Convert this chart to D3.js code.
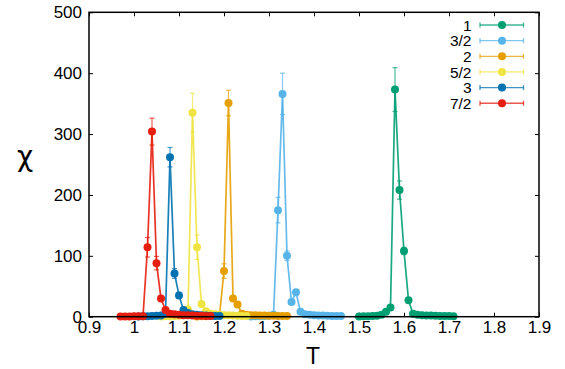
<!DOCTYPE html>
<html>
<head>
<meta charset="utf-8">
<script src="https://cdn.jsdelivr.net/npm/d3@7"></script>
<style>
  html, body { margin: 0; padding: 0; background: #fff; }
  svg { display: block; font-family: "Liberation Sans", Arial, Helvetica, sans-serif; }
</style>
</head>
<body>
<svg id="chart" width="565" height="369"></svg>
<script>
// Susceptibility chi(T) for spins S = 1 ... 7/2
const spinLabels = ["1", "3/2", "2", "5/2", "3", "7/2"];
const spinColors = ["#009e73", "#56b4e9", "#e69f00", "#f0e442", "#0072b2", "#e51e10"];

const tS1 = [1.50,1.51,1.52,1.53,1.54,1.55,1.56,1.57,1.58,1.59,1.60,1.61,1.62,1.63,1.64,1.65,1.66,1.67,1.68,1.69,1.70,1.71];
const chiS1 = [0.5,0.6,0.8,1.0,1.5,3,8,15,373,208,108,27,5,3,2.5,2,1.8,1.5,1.3,1.2,1.0,0.9];
const errS1 = [0,0,0,0,0,0.5,1,3,36,15,6,3,1,0,0,0,0,0,0,0,0,0];

const tS32 = [1.26,1.27,1.28,1.29,1.30,1.31,1.32,1.33,1.34,1.35,1.36,1.37,1.38,1.39,1.40,1.41,1.42,1.43,1.44,1.45,1.46];
const chiS32 = [0.5,0.6,0.8,1.0,1.5,3,175,366,100,24,40,8,4,3,2.5,2,1.8,1.5,1.3,1.1,1.0];
const errS32 = [0,0,0,0,0,0.5,21,34,8,3,4,1,0,0,0,0,0,0,0,0,0];

const tS2 = [1.14,1.15,1.16,1.17,1.18,1.19,1.20,1.21,1.22,1.23,1.24,1.25,1.26,1.27,1.28,1.29,1.30,1.31,1.32,1.33,1.34];
const chiS2 = [0.5,0.6,0.8,1.0,1.5,2,75,351,30,20,5,3,2.5,2.2,2,1.8,1.6,1.4,1.2,1.1,1.0];
const errS2 = [0,0,0,0,0,0.5,12,21,3,2,1,0,0,0,0,0,0,0,0,0,0];

const tS52 = [1.06,1.07,1.08,1.09,1.10,1.11,1.12,1.13,1.14,1.15,1.16,1.17,1.18,1.19,1.20,1.21,1.22,1.23,1.24,1.25];
const chiS52 = [0.5,0.6,0.8,1.0,1.5,2.5,12,335,114,21,9,5,4,3,2.5,2.2,2,1.6,1.3,1.0];
const errS52 = [0,0,0,0,0,0.5,2,32,20,3,1,1,0,0,0,0,0,0,0,0];

const tS3 = [1.01,1.02,1.03,1.04,1.05,1.06,1.07,1.08,1.09,1.10,1.11,1.12,1.13,1.14,1.15,1.16,1.17,1.18,1.19];
const chiS3 = [0.5,0.6,0.8,1.0,1.5,2,5,262,71,35,11,6,4,3,2.5,2,1.6,1.3,1.0];
const errS3 = [0,0,0,0,0,0.5,1,16,8,5,2,1,0,0,0,0,0,0,0];

const tS72 = [0.97,0.98,0.99,1.00,1.01,1.02,1.03,1.04,1.05,1.06,1.07,1.08,1.09,1.10,1.11,1.12,1.13,1.14,1.15,1.16,1.17];
const chiS72 = [0.3,0.4,0.5,0.6,0.7,0.8,114,304,88,30,11,5,4,3,2.5,2.2,2,1.7,1.4,1.2,1.0];
const errS72 = [0,0,0,0,0,0,16,22,11,4,2,1,0,0,0,0,0,0,0,0,0];

const xTicks = [0.9,1.0,1.1,1.2,1.3,1.4,1.5,1.6,1.7,1.8,1.9];
const yTicks = [0,100,200,300,400,500];

const seriesT = [tS1, tS32, tS2, tS52, tS3, tS72];
const seriesChi = [chiS1, chiS32, chiS2, chiS52, chiS3, chiS72];
const seriesErr = [errS1, errS32, errS2, errS52, errS3, errS72];

const series = spinLabels.map((label, i) => ({
  label,
  color: spinColors[i],
  points: seriesT[i].map((t, j) => ({ t, chi: seriesChi[i][j], err: seriesErr[i][j] }))
}));

const svg = d3.select("#chart");
const plotLeft = 89, plotRight = 539, plotTop = 12.3, plotBottom = 316.7;

const x = d3.scaleLinear().domain([0.9, 1.9]).range([plotLeft, plotRight]);
const y = d3.scaleLinear().domain([0, 500]).range([plotBottom, plotTop]);

const fmtX = d3.format(".1~f");

// axes with inward ticks on all four sides
const axisStyle = g => {
  g.select(".domain").remove();
  g.selectAll(".tick line").attr("stroke", "#000").attr("stroke-width", 1);
  g.selectAll(".tick text").attr("fill", "#000").attr("font-size", 17)
    .attr("font-family", "Liberation Sans, Arial, sans-serif");
};

svg.append("g").attr("transform", `translate(0,${plotBottom})`)
  .call(d3.axisBottom(x).tickValues(xTicks).tickFormat(fmtX).tickSize(-4).tickPadding(4))
  .call(axisStyle);
svg.append("g").attr("transform", `translate(0,${plotTop})`)
  .call(d3.axisTop(x).tickValues(xTicks).tickFormat("").tickSize(-4))
  .call(axisStyle);
svg.append("g").attr("transform", `translate(${plotLeft},0)`)
  .call(d3.axisLeft(y).tickValues(yTicks).tickFormat(d3.format("d")).tickSize(-4).tickPadding(7))
  .call(axisStyle);
svg.append("g").attr("transform", `translate(${plotRight},0)`)
  .call(d3.axisRight(y).tickValues(yTicks).tickFormat("").tickSize(-4))
  .call(axisStyle);

// data: line, error bars, points for each spin value
const line = d3.line().x(d => x(d.t)).y(d => y(d.chi));
const cap = 2.5, r = 4;

series.forEach(s => {
  const g = svg.append("g");
  g.append("path").datum(s.points)
    .attr("d", line).attr("fill", "none")
    .attr("stroke", s.color).attr("stroke-width", 1.7).attr("stroke-opacity", 0.9);

  const eb = g.selectAll(".eb").data(s.points.filter(d => d.err > 0)).join("g")
    .attr("class", "eb")
    .attr("stroke", s.color).attr("stroke-width", 1.2).attr("stroke-opacity", 0.7);
  eb.append("line")
    .attr("x1", d => x(d.t)).attr("x2", d => x(d.t))
    .attr("y1", d => y(d.chi - d.err)).attr("y2", d => y(d.chi + d.err));
  eb.append("line")
    .attr("x1", d => x(d.t) - cap).attr("x2", d => x(d.t) + cap)
    .attr("y1", d => y(d.chi + d.err)).attr("y2", d => y(d.chi + d.err));
  eb.append("line")
    .attr("x1", d => x(d.t) - cap).attr("x2", d => x(d.t) + cap)
    .attr("y1", d => y(d.chi - d.err)).attr("y2", d => y(d.chi - d.err));

  g.selectAll("circle").data(s.points).join("circle")
    .attr("cx", d => x(d.t)).attr("cy", d => y(d.chi)).attr("r", r)
    .attr("fill", s.color);
});

// frame
svg.append("rect")
  .attr("x", plotLeft).attr("y", plotTop)
  .attr("width", plotRight - plotLeft).attr("height", plotBottom - plotTop)
  .attr("fill", "none").attr("stroke", "#000").attr("stroke-width", 1.5);

// legend
const legend = svg.append("g");
series.forEach((s, i) => {
  const ly = 25 + i * 15.65;
  const row = legend.append("g");
  row.append("text").attr("x", 471.5).attr("y", ly).attr("dy", "0.36em")
    .attr("text-anchor", "end").attr("font-size", 15.5).attr("fill", "#000").text(s.label);
  row.append("line").attr("x1", 480).attr("x2", 523.5).attr("y1", ly).attr("y2", ly)
    .attr("stroke", s.color).attr("stroke-width", 1.3).attr("stroke-opacity", 0.75);
  [480, 523.5].forEach(cx => row.append("line")
    .attr("x1", cx).attr("x2", cx).attr("y1", ly - cap).attr("y2", ly + cap)
    .attr("stroke", s.color).attr("stroke-width", 1.3).attr("stroke-opacity", 0.75));
  row.append("circle").attr("cx", 502).attr("cy", ly).attr("r", r).attr("fill", s.color);
});

// axis titles
svg.append("text").attr("x", 313).attr("y", 364).attr("text-anchor", "middle")
  .attr("font-size", 23).attr("fill", "#000").text("T");
svg.append("text").attr("x", 25).attr("y", 166)
  .attr("text-anchor", "middle")
  .attr("font-family", "DejaVu Sans, sans-serif")
  .attr("font-size", 28).attr("fill", "#000").text("χ");
</script>
</body>
</html>
